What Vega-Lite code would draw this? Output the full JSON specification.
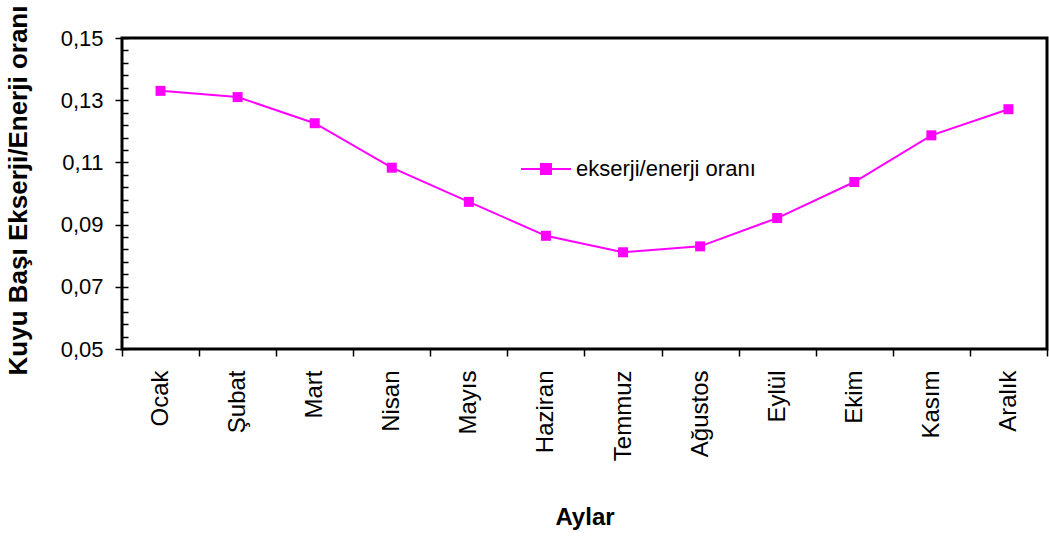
{
  "$schema": "https://vega.github.io/schema/vega-lite/v6.json",
  "width": 925,
  "height": 311,
  "autosize": {"type": "none"},
  "padding": {"left": 122, "top": 38, "right": 2, "bottom": 187},
  "background": "white",
  "config": {
    "font": "Liberation Sans",
    "view": {"stroke": "black", "strokeWidth": 3}
  },
  "data": {
    "values": [
      {"ay": "Ocak", "oran": 0.1330, "seri": "ekserji/enerji oranı"},
      {"ay": "Şubat", "oran": 0.1310, "seri": "ekserji/enerji oranı"},
      {"ay": "Mart", "oran": 0.1226, "seri": "ekserji/enerji oranı"},
      {"ay": "Nisan", "oran": 0.1083, "seri": "ekserji/enerji oranı"},
      {"ay": "Mayıs", "oran": 0.0973, "seri": "ekserji/enerji oranı"},
      {"ay": "Haziran", "oran": 0.0864, "seri": "ekserji/enerji oranı"},
      {"ay": "Temmuz", "oran": 0.0811, "seri": "ekserji/enerji oranı"},
      {"ay": "Ağustos", "oran": 0.0830, "seri": "ekserji/enerji oranı"},
      {"ay": "Eylül", "oran": 0.0921, "seri": "ekserji/enerji oranı"},
      {"ay": "Ekim", "oran": 0.1037, "seri": "ekserji/enerji oranı"},
      {"ay": "Kasım", "oran": 0.1187, "seri": "ekserji/enerji oranı"},
      {"ay": "Aralık", "oran": 0.1271, "seri": "ekserji/enerji oranı"}
    ]
  },
  "encoding": {
    "x": {
      "field": "ay",
      "type": "nominal",
      "sort": null,
      "scale": {"paddingInner": 0, "paddingOuter": 0},
      "axis": {
        "title": "Aylar",
        "titleFont": "Liberation Sans",
        "titleFontSize": 24,
        "titleFontWeight": "bold",
        "titleColor": "black",
        "titleY": 168,
        "titleBaseline": "middle",
        "labelAngle": -90,
        "labelAlign": "right",
        "labelBaseline": "middle",
        "labelFontSize": 24,
        "labelColor": "black",
        "labelPadding": 14,
        "tickBand": "extent",
        "tickSize": 7,
        "tickWidth": 1.5,
        "tickColor": "black",
        "domain": false,
        "grid": false
      }
    },
    "y": {
      "field": "oran",
      "type": "quantitative",
      "scale": {"domain": [0.05, 0.15], "nice": false, "zero": false},
      "axis": {
        "title": "Kuyu Başı Ekserji/Enerji oranı",
        "titleFont": "Liberation Sans",
        "titleFontSize": 26,
        "titleFontWeight": "bold",
        "titleColor": "black",
        "titleAngle": -90,
        "titleX": -110,
        "titleY": 152,
        "titleAlign": "center",
        "titleBaseline": "middle",
        "offset": -6,
        "zindex": 2,
        "values": [0.05, 0.054, 0.058, 0.062, 0.066, 0.07, 0.074, 0.078, 0.082, 0.086, 0.09, 0.094, 0.098, 0.102, 0.106, 0.11, 0.114, 0.118, 0.122, 0.126, 0.13, 0.134, 0.138, 0.142, 0.146, 0.15],
        "labelExpr": "abs(round(datum.value * 100) - datum.value * 100) < 0.01 && round(datum.value * 100) % 2 == 1 ? replace(format(datum.value, '.2f'), '.', ',') : ''",
        "labelFontSize": 22,
        "labelColor": "black",
        "labelPadding": 12,
        "tickColor": "black",
        "tickWidth": 1.5,
        "tickSize": {
          "condition": {"test": "abs(round(datum.value * 100) - datum.value * 100) < 0.01 && round(datum.value * 100) % 2 == 1", "value": 13},
          "value": 6
        },
        "domain": false,
        "grid": false
      }
    }
  },
  "layer": [
    {
      "mark": {"type": "line", "color": "#FF00FF", "strokeWidth": 2},
      "encoding": {}
    },
    {
      "mark": {"type": "square", "filled": true, "opacity": 1, "size": 100},
      "encoding": {
        "color": {
          "field": "seri",
          "type": "nominal",
          "scale": {"range": ["#FF00FF"]},
          "legend": {
            "title": null,
            "orient": "none",
            "legendX": 398,
            "legendY": 105,
            "symbolType": "M-1,0H1M-0.2,-0.2H0.2V0.2H-0.2Z",
            "symbolSize": 2500,
            "symbolStrokeWidth": 2,
            "symbolStrokeColor": "#FF00FF",
            "symbolFillColor": "#FF00FF",
            "labelFontSize": 22,
            "labelLimit": 0,
            "labelColor": "black",
            "labelOffset": 4
          }
        }
      }
    }
  ]
}
